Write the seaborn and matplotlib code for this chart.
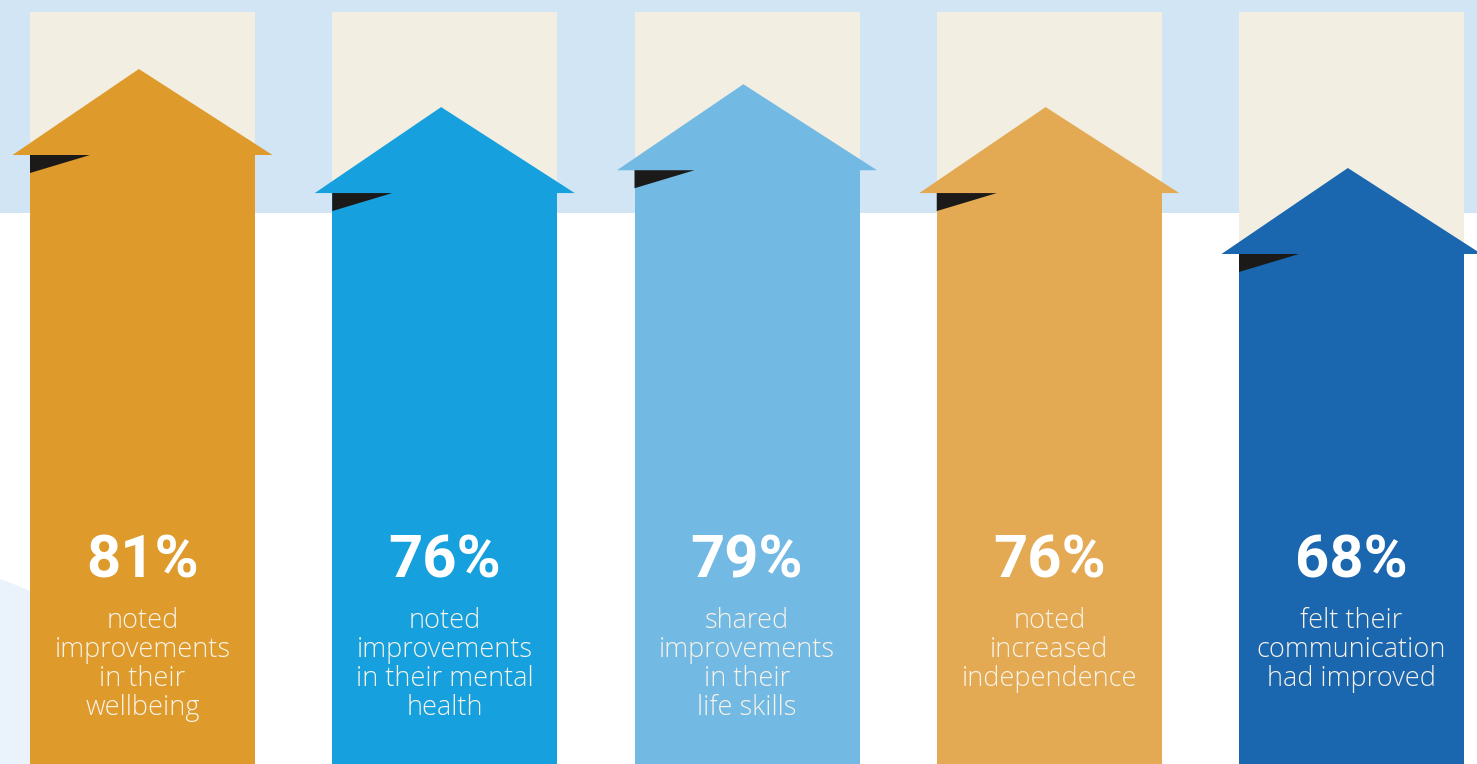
import matplotlib
matplotlib.use("Agg")
import matplotlib.pyplot as plt
import seaborn as sns
import pandas as pd
from matplotlib.patches import Polygon, Rectangle, Ellipse

# ---- data ----
categories = ["wellbeing", "mental health", "life skills", "independence", "communication"]
values = [81, 76, 79, 76, 68]
pct_labels = ["81%", "76%", "79%", "76%", "68%"]
descriptions = [
    ["noted", "improvements", "in their", "wellbeing"],
    ["noted", "improvements", "in their mental", "health"],
    ["shared", "improvements", "in their", "life skills"],
    ["noted", "increased", "independence"],
    ["felt their", "communication", "had improved"],
]
colors = ["#DE9A2B", "#16A1DE", "#72B9E4", "#E3AA53", "#1A66AF"]

# ---- layout constants (pixels -> axis units) ----
W, H = 1477, 764
PX_PER_UNIT_Y = 7.615          # pixels per percentage point
REF_V, REF_PX = 81, 69         # value 81 tip sits at pixel row 69
def vy(px):
    return REF_V - (px - REF_PX) / PX_PER_UNIT_Y
PX_PER_CAT = 302.25
CAT0_PX = 142.5
def cx(px):
    return (px - CAT0_PX) / PX_PER_CAT

ymin, ymax = vy(H), vy(0)
xmin, xmax = cx(0), cx(W)
bar_w = 225 / PX_PER_CAT
head_w = 260 / PX_PER_CAT
head_h = 86 / PX_PER_UNIT_Y
fold_w = 60 / PX_PER_CAT
fold_h = 18 / PX_PER_UNIT_Y

fig = plt.figure(figsize=(W / 100, H / 100), dpi=100)
ax = fig.add_axes([0, 0, 1, 1])
ax.set_xlim(xmin, xmax)
ax.set_ylim(ymin, ymax)
ax.axis("off")
fig.patch.set_facecolor("white")

# background band
ax.add_patch(Rectangle((xmin, vy(213)), xmax - xmin, ymax - vy(213),
                       facecolor="#D2E5F5", edgecolor="none", zorder=0))
# faint blob bottom-left
ax.add_patch(Ellipse((cx(-150), vy(1000)), 2 * 447 / PX_PER_CAT, 2 * 447 / PX_PER_UNIT_Y,
                     facecolor="#EAF3FB", edgecolor="none", zorder=0))

# beige boxes
for i in range(len(values)):
    ax.add_patch(Rectangle((i - bar_w / 2, ymin), bar_w, vy(12) - ymin,
                           facecolor="#F2EEE1", edgecolor="none", zorder=1))

df = pd.DataFrame({"cat": categories, "body": [v - head_h for v in values]})
sns.barplot(data=df, x="cat", y="body", hue="cat", palette=colors, legend=False,
            width=bar_w, ax=ax, saturation=1, zorder=2, linewidth=0)
for p in ax.patches[-len(values):]:
    top = p.get_y() + p.get_height()
    p.set_y(ymin)
    p.set_height(top - ymin)
    p.set_zorder(2)
ax.set_xlim(xmin, xmax)
ax.set_ylim(ymin, ymax)
ax.axis("off")

for i, (v, c) in enumerate(zip(values, colors)):
    base = v - head_h
    ax.add_patch(Polygon([(i - head_w / 2, base), (i + head_w / 2, base), (i - 0.012, v)],
                         closed=True, facecolor=c, edgecolor="none", zorder=3))
    left = i - bar_w / 2
    ax.add_patch(Polygon([(left, base), (left + fold_w, base), (left, base - fold_h)],
                         closed=True, facecolor="#1C1A18", edgecolor="none", zorder=4))
    ax.text(i, vy(577), pct_labels[i], ha="center", va="baseline", color="white",
            fontsize=43, fontweight="bold", family="Roboto", zorder=5)
    for j, line in enumerate(descriptions[i]):
        ax.text(i, vy(628 + 29 * j), line, ha="center", va="baseline", color="#F8F3E8",
                fontsize=19.5, fontweight="light", family="Open Sans", zorder=5)

fig.savefig("out.png", dpi=100)
